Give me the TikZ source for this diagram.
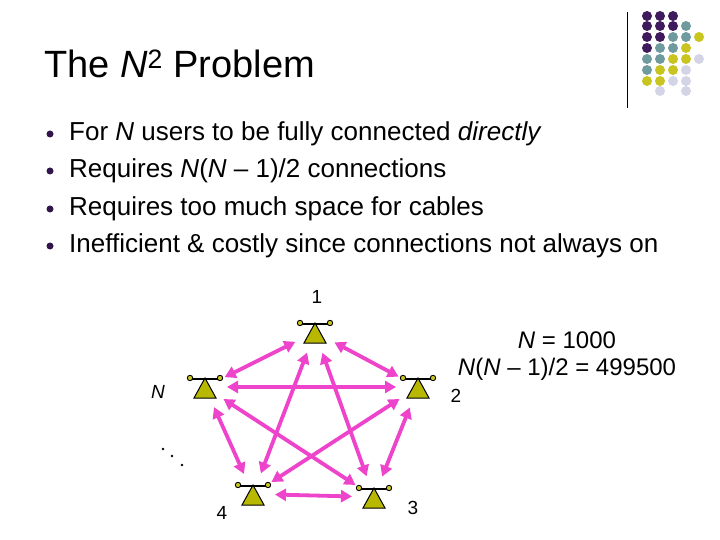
\documentclass[tikz,border=0pt]{standalone}
\usepackage{fontspec}
\setmainfont{Liberation Sans}
\usetikzlibrary{arrows.meta,calc}
\definecolor{pp}{HTML}{3F1A5C}
\definecolor{tt}{HTML}{6F9A9E}
\definecolor{yy}{HTML}{C8C420}
\definecolor{ll}{HTML}{D3D5E6}
\definecolor{mag}{HTML}{EE44CC}
\definecolor{olive}{HTML}{B8B800}
\tikzset{
 conn/.style={draw=mag,line width=3.8pt,{Triangle[length=11pt,width=12pt]}-{Triangle[length=11pt,width=12pt]},shorten <=22pt,shorten >=22pt},
 bul/.style={anchor=west,font=\fontsize{26}{30}\selectfont,inner sep=0pt},
 lab/.style={font=\fontsize{19}{22}\selectfont,inner sep=0pt},
 gd/.style={circle,inner sep=0pt,minimum size=10pt}
}
\newcommand{\phone}[2]{%
 \coordinate (#1) at (#2);
 \fill[olive,draw=black,line width=1pt] ($(#2)+(-11,11)$) -- ($(#2)+(0,-9)$) -- ($(#2)+(11,11)$) -- cycle;
 \draw[line width=1.8pt] ($(#2)+(-13,-8)$) -- ($(#2)+(13,-8)$);
 \draw[fill=yy,line width=0.9pt] ($(#2)+(-15,-9)$) circle (2.7pt);
 \draw[fill=yy,line width=0.9pt] ($(#2)+(15,-9)$) circle (2.7pt);
}
\begin{document}
\begin{tikzpicture}[x=1pt,y=-1pt]
\useasboundingbox[fill=white] (0,0) rectangle (720,540);
\node[anchor=base west,inner sep=0pt,font=\fontsize{38}{44}\selectfont] (title) at (44,78) {The \textit{N}\textsuperscript{2} Problem};
\foreach \y/\t [count=\i] in {134/{For \textit{N} users to be fully connected \textit{directly}},171/{Requires \textit{N}(\textit{N} – 1)/2 connections},209/{Requires too much space for cables},246/{Inefficient \& costly since connections not always on}}{
 \node[circle,fill=pp!80!black,inner sep=0pt,minimum size=7pt] (b\i) at (50,\y) {};
 \node[bul] (t\i) at (69,\y) {\t};
}
\draw[line width=1pt] (627,12) -- (627,108);
\foreach \r/\row in {16/{pp,pp,pp},26/{pp,pp,pp,tt},37/{pp,pp,tt,tt,yy},48/{pp,tt,tt,yy},59/{tt,tt,yy,yy,ll},70/{tt,yy,yy,ll},81/{yy,yy,ll,ll},91/{white,ll,white,ll}}{
 \foreach \c [count=\k] in \row {\node[gd,fill=\c] (g\r\k) at (634+13*\k,\r) {};}
}
\phone{p1}{315,332}
\phone{p2}{418,387}
\phone{p3}{374,497}
\phone{p4}{253,494}
\phone{pN}{205,387}
\draw[conn] (p1) -- (p2);
\draw[conn] (p1) -- (p3);
\draw[conn] (p1) -- (p4);
\draw[conn] (p1) -- (pN);
\draw[conn] (p2) -- (p3);
\draw[conn] (p2) -- (p4);
\draw[conn] (p2) -- (pN);
\draw[conn] (p3) -- (p4);
\draw[conn] (p3) -- (pN);
\draw[conn] (p4) -- (pN);
\node[lab] (l1) at (317,297) {1};
\node[lab] (l2) at (456,396) {2};
\node[lab] (l3) at (413,508) {3};
\node[lab] (l4) at (222,513) {4};
\node[lab] (lN) at (158,392) {\textit{N}};
\foreach \i/\p in {1/{163,449},2/{172,456},3/{182,465}}{\fill (\p) circle (1.4pt);}
\node[lab,font=\fontsize{24}{28}\selectfont] (n1) at (567,340) {\textit{N} = 1000};
\node[lab,font=\fontsize{24}{28}\selectfont] (n2) at (567,369) {\textit{N}(\textit{N} – 1)/2 = 499500};
\end{tikzpicture}
\end{document}
